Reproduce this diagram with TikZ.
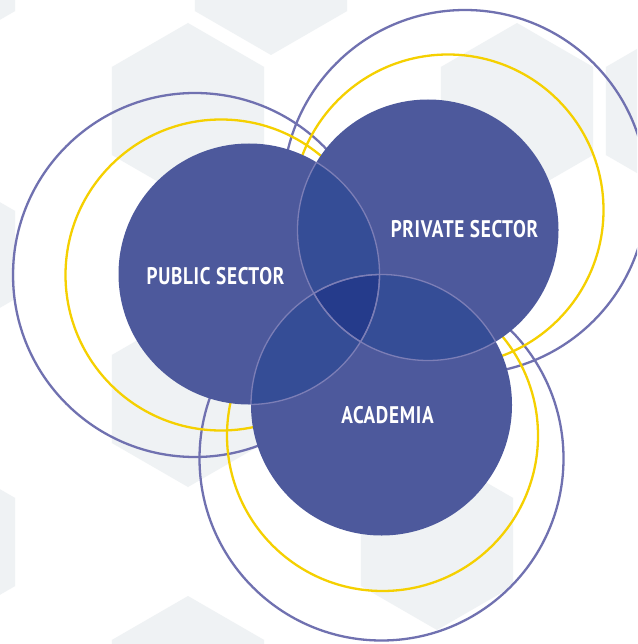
\documentclass[tikz,border=0pt]{standalone}
\usepackage{fontspec}
\newfontfamily\sectorfont[FakeStretch=0.8,LetterSpace=3]{PT Sans}
\definecolor{hexgray}{RGB}{239,242,244}
\definecolor{discblue}{RGB}{77,89,156}
\definecolor{pairblue}{RGB}{53,77,150}
\definecolor{coreblue}{RGB}{37,59,139}
\definecolor{rimline}{RGB}{124,126,182}
\definecolor{ringpurple}{RGB}{112,113,176}
\definecolor{ringyellow}{RGB}{245,208,0}

\begin{document}
\begin{tikzpicture}[x=1pt,y=-1pt,
    ring/.style={line width=2.3pt},
    rim/.style={rimline,line width=1.3pt},
    sector/.style={text=white,font=\sectorfont\bfseries\fontsize{24}{24}\selectfont,inner sep=0pt}]
        % sizes of the disks, the rings and the hexagons
        \pgfmathsetmacro{\rdisk}{130.5}
        \pgfmathsetmacro{\ryellow}{155.5}
        \pgfmathsetmacro{\rpurple}{182}
        \pgfmathsetmacro{\rhex}{88}
        % frame
        \useasboundingbox (0,0) rectangle (637,644);
        \clip (0,0) rectangle (637,644);
        \fill[white] (0,0) rectangle (637,644);
        % hexagons in the background
        \foreach \x/\y in {-61/-33,271/-33,188/111,517/111,682/111,-61/255,188/399,-61/542,437/542,188/684}
            \fill[hexgray] (\x,\y) +(30:\rhex pt) -- +(90:\rhex pt) -- +(150:\rhex pt)
                -- +(210:\rhex pt) -- +(270:\rhex pt) -- +(330:\rhex pt) -- cycle;
        % centres of the three disks
        \coordinate (pub) at (249,274);
        \coordinate (priv) at (428,230);
        \coordinate (acad) at (381.5,405);
        % the rings behind the disks
        \foreach \x/\y in {195/275,465/192,381.5/458.5}
            \draw[ring,ringpurple] (\x,\y) circle (\rpurple pt);
        \foreach \x/\y in {221/275,448/210,382.5/435.5}
            \draw[ring,ringyellow] (\x,\y) circle (\ryellow pt);
        % the disks
        \foreach \c in {pub,priv,acad}
            \fill[discblue] (\c) circle (\rdisk pt);
        % overlaps of two disks
        \foreach \a/\b in {pub/priv,pub/acad,priv/acad}{
            \begin{scope}
                \clip (\a) circle (\rdisk pt);
                \fill[pairblue] (\b) circle (\rdisk pt);
            \end{scope}
        }
        % overlap of all three
        \begin{scope}
            \clip (pub) circle (\rdisk pt);
            \clip (priv) circle (\rdisk pt);
            \fill[coreblue] (acad) circle (\rdisk pt);
        \end{scope}
        % edges of the disks, seen only inside the others
        \foreach \c/\a/\b in {pub/priv/acad,priv/pub/acad,acad/pub/priv}{
            \begin{scope}
                \clip (\c) circle (\rdisk pt);
                \draw[rim] (\a) circle (\rdisk pt);
                \draw[rim] (\b) circle (\rdisk pt);
            \end{scope}
        }
        % labels
        \node[sector] (public) at (215.5,276) {PUBLIC SECTOR};
        \node[sector] (private) at (464.5,229) {PRIVATE SECTOR};
        \node[sector] (academia) at (387.5,415) {ACADEMIA};
    \end{tikzpicture}
\end{document}
